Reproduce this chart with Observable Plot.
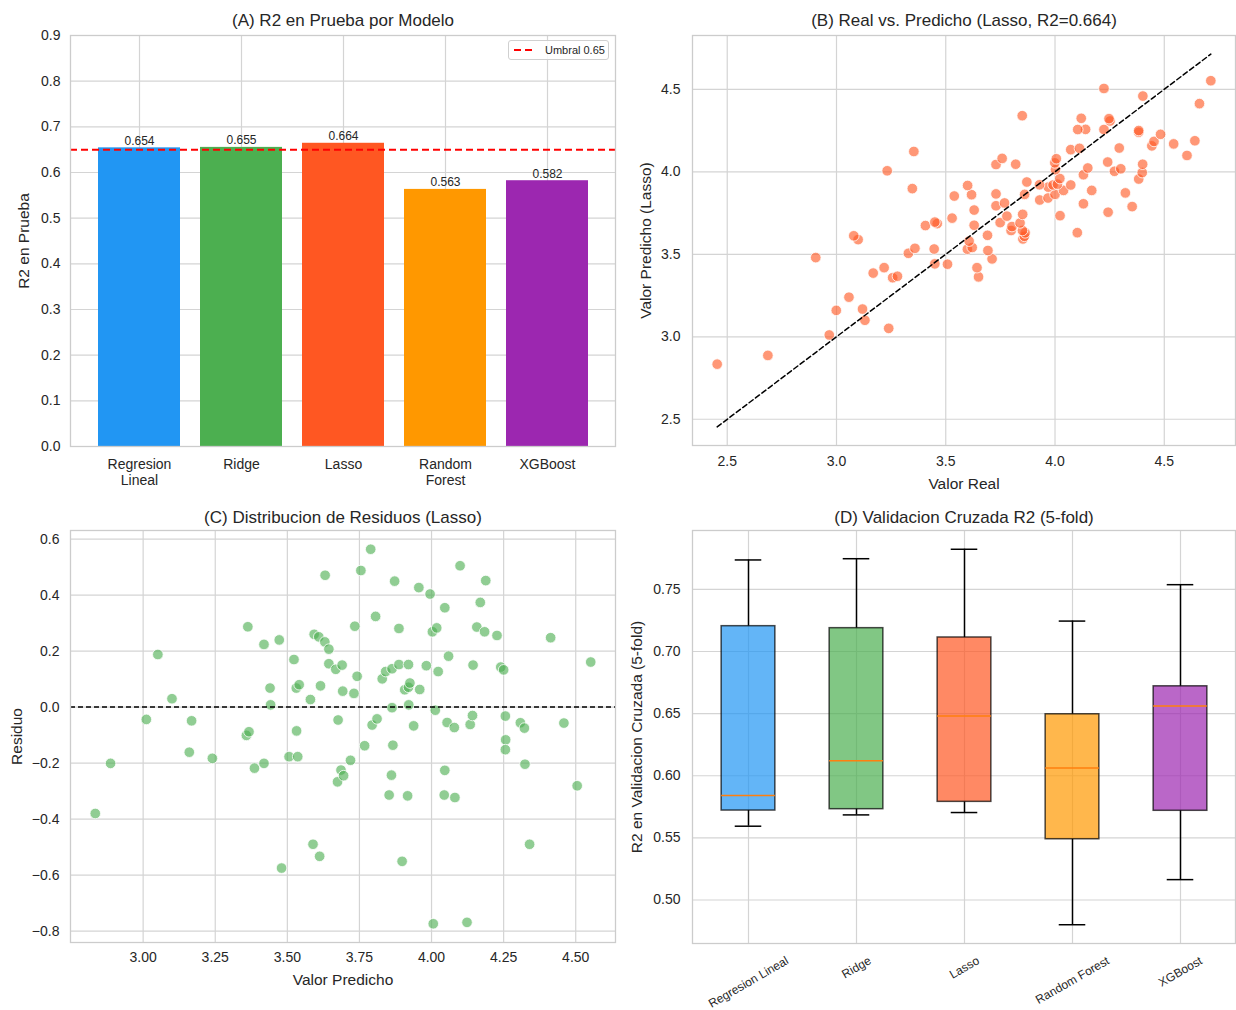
<!DOCTYPE html>
<html><head><meta charset="utf-8">
<script src="https://cdn.jsdelivr.net/npm/d3@7"></script>
<script src="https://cdn.jsdelivr.net/npm/@observablehq/plot@0.6"></script>
<style>
body{margin:0;background:#fff;font-family:"Liberation Sans",Arial,sans-serif;}
#fig{position:relative;width:1236px;height:1010px;overflow:hidden;background:#fff;}
#fig svg{position:absolute;}
#legA{position:absolute;left:508px;top:40px;width:101px;height:20px;border:1px solid #d0d0d0;border-radius:3px;background:rgba(255,255,255,0.85);font-size:11px;color:#262626;display:flex;align-items:center;box-sizing:border-box;}
#legA svg{position:static;}
</style></head><body><div id="fig"></div>
<script>
// ---------- DATA ----------
const models = ["Regresion Lineal","Ridge","Lasso","Random Forest","XGBoost"];
const modelColors = ["#2196F3","#4CAF50","#FF5722","#FF9800","#9C27B0"];
const testR2 = [0.654,0.655,0.664,0.563,0.582];
const threshold = 0.65;

const lassoPred = [2.834,2.887,3.011,3.051,3.100,3.160,3.168,3.240,3.363,3.358,3.367,3.386,3.419,3.419,3.472,3.440,3.442,3.480,3.506,3.536,3.532,3.523,3.531,3.541,3.580,3.589,3.612,3.593,3.609,3.615,3.630,3.631,3.644,3.644,3.668,3.690,3.692,3.676,3.674,3.686,3.695,3.719,3.731,3.734,3.742,3.755,3.768,3.789,3.794,3.806,3.811,3.829,3.841,3.853,3.861,3.863,3.863,3.866,3.872,3.887,3.887,3.898,3.907,3.917,3.920,3.920,3.921,3.925,3.938,3.956,3.959,3.982,3.995,4.003,4.006,4.013,4.018,4.023,4.044,4.046,4.046,4.054,4.059,4.079,4.081,4.099,4.123,4.134,4.142,4.144,4.157,4.169,4.184,4.188,4.227,4.240,4.250,4.256,4.257,4.256,4.308,4.322,4.324,4.340,4.413,4.459,4.505,4.552];
const lassoResid = [-0.380,-0.201,-0.044,0.188,0.030,-0.161,-0.049,-0.183,0.287,-0.101,-0.088,-0.218,-0.201,0.224,0.240,0.068,0.008,-0.575,-0.177,-0.177,-0.085,0.170,0.068,0.080,0.027,-0.490,-0.533,0.260,0.251,0.076,0.233,0.471,0.207,0.155,0.135,0.150,0.057,-0.046,-0.267,-0.225,-0.245,-0.190,0.049,0.289,0.110,0.488,-0.138,0.564,-0.064,0.324,-0.042,0.101,0.127,-0.314,-0.243,0.137,-0.002,-0.136,0.450,0.281,0.152,-0.551,0.062,-0.317,0.152,0.071,0.008,0.086,-0.067,0.427,0.063,0.148,0.404,0.269,-0.774,-0.011,0.283,0.127,-0.314,-0.226,0.355,-0.055,0.182,-0.073,-0.323,0.505,-0.769,-0.062,-0.030,0.150,0.286,0.374,0.269,0.452,0.256,0.143,0.133,-0.032,-0.117,-0.152,-0.056,-0.075,-0.204,-0.490,0.248,-0.057,-0.281,0.161];
const lassoActual = [2.454,2.686,2.967,3.239,3.130,2.999,3.119,3.057,3.650,3.257,3.279,3.168,3.218,3.643,3.712,3.508,3.450,2.905,3.329,3.359,3.447,3.693,3.599,3.621,3.607,3.099,3.079,3.853,3.860,3.691,3.863,4.102,3.851,3.799,3.803,3.840,3.749,3.630,3.407,3.461,3.450,3.529,3.780,4.023,3.852,4.243,3.630,4.353,3.730,4.130,3.769,3.930,3.968,3.539,3.618,4.000,3.861,3.730,4.322,4.168,4.039,3.347,3.969,3.600,4.072,3.991,3.929,4.011,3.871,4.383,4.022,4.130,4.399,4.272,3.232,4.002,4.301,4.150,3.730,3.820,4.401,3.999,4.241,4.006,3.758,4.604,3.354,4.072,4.112,4.294,4.443,4.543,4.453,4.640,4.483,4.383,4.383,4.224,4.140,4.104,4.252,4.247,4.120,3.850,4.661,4.402,4.224,4.713];

// 5-fold cross-validation R2 scores
const cvLR    = [0.5594,0.5720,0.5841,0.7204,0.7737];
const cvRidge = [0.5685,0.5731,0.6121,0.7188,0.7747];
const cvLasso = [0.5704,0.5790,0.6481,0.7113,0.7823];
const cvRF    = [0.4801,0.5489,0.6062,0.6495,0.7245];
const cvXGB   = [0.5164,0.5718,0.6562,0.6720,0.7538];

// tick values
const ticksA_y = [0,0.1,0.2,0.3,0.4,0.5,0.6,0.7,0.8,0.9];
const ticksB = [2.5,3.0,3.5,4.0,4.5];
const ticksC_x = [3.00,3.25,3.50,3.75,4.00,4.25,4.50];
const ticksC_y = [-0.8,-0.6,-0.4,-0.2,0.0,0.2,0.4,0.6];
const ticksD_y = [0.50,0.55,0.60,0.65,0.70,0.75];

const titles = ["(A) R2 en Prueba por Modelo","(B) Real vs. Predicho (Lasso, R2=0.664)","(C) Distribucion de Residuos (Lasso)","(D) Validacion Cruzada R2 (5-fold)"];

// ---------- STYLE ----------
const FONT = '"Liberation Sans", Arial, sans-serif';
const TXT = "#262626";
const GRID = "#d4d4d4";
const W = 618, H = 505;
const style = {fontFamily: FONT, fontSize: "14px", color: TXT, background: "transparent", overflow: "visible"};
const titleSize = 17, labelSize = 15.5, tickSize = 14;

function padded(ext, f = 0.05) { const r = ext[1] - ext[0]; return [ext[0] - r * f, ext[1] + r * f]; }
function title(t, dy) { return Plot.text([t], {text: d => d, frameAnchor: "top", dy, fontSize: titleSize, lineAnchor: "middle", fill: TXT}); }
function ylab(t, dx) { return Plot.text([t], {text: d => d, frameAnchor: "left", dx, rotate: -90, textAnchor: "middle", lineAnchor: "middle", fontSize: labelSize, fill: TXT}); }
function xlab(t, dy) { return Plot.text([t], {text: d => d, frameAnchor: "bottom", dy, lineAnchor: "middle", fontSize: labelSize, fill: TXT}); }
const frame = () => Plot.frame({stroke: "#cccccc", strokeWidth: 1.3});

const fig = document.getElementById("fig");
function place(svg, left, top) { svg.style.left = left + "px"; svg.style.top = top + "px"; fig.appendChild(svg); }

// ---------- PANEL A ----------
const barData = models.map((m, i) => ({model: m, r2: testR2[i], color: modelColors[i]}));
const A = Plot.plot({
  width: W, height: H, marginLeft: 70, marginRight: 3, marginTop: 35, marginBottom: 59,
  style,
  x: {type: "band", domain: models, paddingInner: 0.2, paddingOuter: 0.25},
  y: {domain: [0, 0.9]},
  color: {type: "identity"},
  marks: [
    Plot.gridX({stroke: GRID, strokeOpacity: 1, strokeWidth: 1.2}),
    Plot.gridY(ticksA_y, {stroke: GRID, strokeOpacity: 1, strokeWidth: 1.2}),
    Plot.barY(barData, {x: "model", y: "r2", fill: d => d.color}),
    Plot.ruleY([threshold], {stroke: "#ff0000", strokeWidth: 2, strokeDasharray: "7,4"}),
    Plot.text(barData, {x: "model", y: "r2", text: d => d.r2.toFixed(3), dy: -3, lineAnchor: "bottom", fontSize: 12, fill: TXT}),
    frame(),
    Plot.axisY(ticksA_y, {tickSize: 0, tickPadding: 10, tickFormat: d3.format(".1f"), fontSize: tickSize, label: null}),
    Plot.axisX({tickSize: 0, tickPadding: 11, tickFormat: d => d.replace(" ", "\n"), fontSize: tickSize, lineHeight: 1.15, label: null}),
    title(titles[0], -15),
    ylab("R2 en Prueba", -46)
  ]
});
place(A, 0, 0);

// legend A
const leg = document.createElement("div");
leg.id = "legA";
leg.innerHTML = `<svg width="36" height="18"><line x1="5" x2="27" y1="9" y2="9" stroke="#ff0000" stroke-width="2" stroke-dasharray="7,4"/></svg><span>Umbral ${threshold}</span>`;
fig.appendChild(leg);

// ---------- PANEL B ----------
const scatter = lassoPred.map((p, i) => ({pred: p, actual: lassoActual[i], resid: lassoResid[i]}));
const diag = d3.extent(lassoActual);
const bx = padded(d3.extent([...lassoActual, ...diag]));
const by = padded(d3.extent([...lassoPred, ...diag]));
const B = Plot.plot({
  width: W, height: H, marginLeft: 74, marginRight: 1, marginTop: 35, marginBottom: 60,
  style,
  x: {domain: bx},
  y: {domain: by},
  marks: [
    Plot.gridX(ticksB, {stroke: GRID, strokeOpacity: 1, strokeWidth: 1.2}),
    Plot.gridY(ticksB, {stroke: GRID, strokeOpacity: 1, strokeWidth: 1.2}),
    Plot.dot(scatter, {x: "actual", y: "pred", r: 5.3, fill: "#FF5722", fillOpacity: 0.62, stroke: "white", strokeWidth: 0.8}),
    Plot.line(diag, {x: d => d, y: d => d, stroke: "black", strokeWidth: 1.5, strokeDasharray: "5,3"}),
    frame(),
    Plot.axisX(ticksB, {tickSize: 0, tickPadding: 11, tickFormat: d3.format(".1f"), fontSize: tickSize, label: null}),
    Plot.axisY(ticksB, {tickSize: 0, tickPadding: 12, tickFormat: d3.format(".1f"), fontSize: tickSize, label: null}),
    title(titles[1], -15),
    xlab("Valor Real", 39),
    ylab("Valor Predicho (Lasso)", -46)
  ]
});
place(B, 618, 0);

// ---------- PANEL C ----------
const cx = padded(d3.extent(lassoPred));
const cy = padded(d3.extent(lassoResid));
const C = Plot.plot({
  width: W, height: H, marginLeft: 70, marginRight: 3, marginTop: 25, marginBottom: 68,
  style,
  x: {domain: cx},
  y: {domain: cy},
  marks: [
    Plot.gridX(ticksC_x, {stroke: GRID, strokeOpacity: 1, strokeWidth: 1.2}),
    Plot.gridY(ticksC_y, {stroke: GRID, strokeOpacity: 1, strokeWidth: 1.2}),
    Plot.dot(scatter, {x: "pred", y: "resid", r: 5.3, fill: "#4CAF50", fillOpacity: 0.62, stroke: "white", strokeWidth: 0.8}),
    Plot.ruleY([0], {stroke: "black", strokeWidth: 1.5, strokeDasharray: "5,3"}),
    frame(),
    Plot.axisX(ticksC_x, {tickSize: 0, tickPadding: 10, tickFormat: d3.format(".2f"), fontSize: tickSize, label: null}),
    Plot.axisY(ticksC_y, {tickSize: 0, tickPadding: 11, tickFormat: d3.format(".1f"), fontSize: tickSize, label: null}),
    title(titles[2], -13),
    xlab("Valor Predicho", 38),
    ylab("Residuo", -53)
  ]
});
place(C, 0, 505);

// ---------- PANEL D ----------
const cvScores = [cvLR, cvRidge, cvLasso, cvRF, cvXGB];
const boxStats = models.map((m, i) => {
  const v = cvScores[i].slice().sort(d3.ascending);
  const q1 = d3.quantile(v, 0.25), med = d3.quantile(v, 0.5), q3 = d3.quantile(v, 0.75), iqr = q3 - q1;
  const lo = d3.min(v.filter(x => x >= q1 - 1.5 * iqr)), hi = d3.max(v.filter(x => x <= q3 + 1.5 * iqr));
  return {model: m, color: modelColors[i], q1, med, q3, lo, hi};
});
const dy = padded(d3.extent(cvScores.flat()));
const dBand = (W - 74 - 1) / models.length;
const boxInset = dBand * 0.25, capInset = dBand * 0.375;
const dfs = 12;
const ctx = document.createElement("canvas").getContext("2d");
ctx.font = `${dfs}px ${FONT}`;
const dTickLabels = models.map(m => {
  const w = ctx.measureText(m).width;
  const bh = w * 0.5 + dfs * 0.866;
  return Plot.text([m], {x: d => d, text: d => d, frameAnchor: "bottom", rotate: -30, textAnchor: "middle", lineAnchor: "middle", dy: 11 + bh / 2, fontSize: dfs, fill: TXT});
});
const D = Plot.plot({
  width: W, height: H, marginLeft: 74, marginRight: 1, marginTop: 25, marginBottom: 67,
  style,
  x: {type: "band", domain: models, padding: 0},
  y: {domain: dy},
  color: {type: "identity"},
  marks: [
    Plot.gridX({stroke: GRID, strokeOpacity: 1, strokeWidth: 1.2}),
    Plot.gridY(ticksD_y, {stroke: GRID, strokeOpacity: 1, strokeWidth: 1.2}),
    Plot.ruleX(boxStats, {x: "model", y1: "lo", y2: "q1", stroke: "black", strokeWidth: 1.5}),
    Plot.ruleX(boxStats, {x: "model", y1: "q3", y2: "hi", stroke: "black", strokeWidth: 1.5}),
    Plot.tickY(boxStats, {x: "model", y: "lo", stroke: "black", strokeWidth: 1.5, insetLeft: capInset, insetRight: capInset}),
    Plot.tickY(boxStats, {x: "model", y: "hi", stroke: "black", strokeWidth: 1.5, insetLeft: capInset, insetRight: capInset}),
    Plot.barY(boxStats, {x: "model", y1: "q1", y2: "q3", fill: d => d.color, fillOpacity: 0.7, stroke: "black", strokeOpacity: 0.7, strokeWidth: 1.5, insetLeft: boxInset, insetRight: boxInset}),
    Plot.tickY(boxStats, {x: "model", y: "med", stroke: "#ff7f0e", strokeWidth: 1.5, insetLeft: boxInset, insetRight: boxInset}),
    frame(),
    Plot.axisY(ticksD_y, {tickSize: 0, tickPadding: 12, tickFormat: d3.format(".2f"), fontSize: tickSize, label: null}),
    Plot.axisX({tickSize: 0, tickFormat: () => "", label: null}),
    ...dTickLabels,
    title(titles[3], -13),
    ylab("R2 en Validacion Cruzada (5-fold)", -55)
  ]
});
place(D, 618, 505);
</script></body></html>
